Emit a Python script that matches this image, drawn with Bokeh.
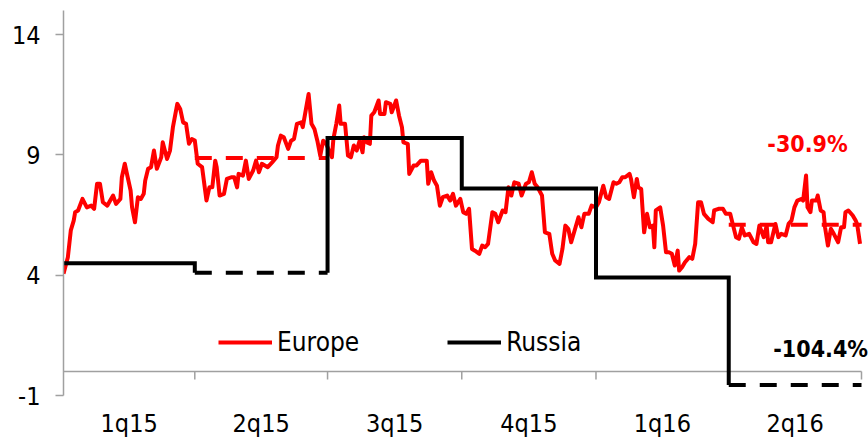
from bokeh.plotting import figure
from bokeh.models import (FixedTicker, LinearAxis, Legend, LegendItem, Label)
from bokeh.embed import file_html
from bokeh.resources import INLINE

# ---------------- data ----------------
# quarter boundaries in calendar days since 1 Jan 2015
quarter_bounds = [0, 90, 181, 273, 365, 456, 547]
quarter_labels = ["1q15", "2q15", "3q15", "4q15", "1q16", "2q16"]

# Russia: quarterly values (step line); dashed = estimate
russia_q = [4.5, 4.1, 9.7, 7.6, 3.9, -0.56]
russia_dashed = [False, True, False, False, False, True]

# Europe: quarterly averages shown dashed
europe_q_avg = [None, 8.87, None, None, None, 6.10]

# Europe: daily series (day, value)
europe_day = [0, 3, 5, 7, 8, 10, 13, 16, 19, 21, 23, 25, 27, 30, 32, 34, 36, 39, 40, 42,
              44, 46, 47, 49, 51, 53, 55, 56, 58, 60, 62, 64, 67, 68, 71, 73, 75, 78, 80, 82,
              84, 86, 88, 90, 92, 95, 98, 100, 102, 104, 105, 107, 110, 112, 115, 117, 119, 120, 123, 125,
              127, 130, 132, 134, 136, 140, 143, 146, 147, 149, 151, 154, 156, 158, 160, 163, 164, 166, 168, 170,
              172, 174, 176, 178, 180, 184, 185, 187, 189, 190, 193, 195, 197, 199, 201, 203, 205, 206, 208, 210,
              211, 213, 216, 217, 220, 221, 224, 225, 228, 230, 232, 233, 236, 237, 240, 242, 245, 249, 250, 252,
              254, 256, 258, 260, 263, 265, 267, 269, 272, 274, 276, 278, 280, 282, 285, 287, 289, 291, 294, 296,
              298, 301, 303, 305, 307, 309, 312, 314, 317, 319, 321, 323, 325, 328, 330, 333, 335, 337, 340, 342,
              344, 346, 348, 351, 353, 355, 357, 360, 362, 365, 367, 370, 372, 374, 377, 379, 381, 383, 385, 388,
              389, 391, 393, 394, 396, 398, 400, 402, 404, 405, 406, 409, 411, 413, 415, 417, 419, 421, 422, 424,
              426, 429, 431, 433, 435, 437, 439, 442, 445, 446, 449, 452, 454, 457, 459, 461, 463, 465, 467, 470,
              473, 475, 477, 480, 482, 483, 485, 488, 490, 492, 495, 497, 499, 501, 503, 506, 507, 509, 510, 512,
              513, 516, 517, 519, 521, 522, 524, 526, 528, 531, 533, 535, 536, 538, 541, 543, 544, 546]
europe_val = [4.06, 4.75, 5.86, 6.27, 6.62, 6.69, 7.17, 6.82, 6.89, 6.76, 7.80, 7.80, 7.03, 6.89, 7.10, 7.31, 6.96, 7.17, 8.07, 8.63,
              8.07, 7.52, 6.82, 6.20, 7.24, 7.17, 7.38, 7.93, 8.42, 8.49, 9.18, 8.42, 8.90, 9.52, 8.83, 9.18, 10.15, 11.12, 10.91, 10.35,
              10.29, 9.46, 9.66, 9.60, 8.63, 8.49, 7.10, 7.65, 7.65, 8.76, 8.49, 7.31, 7.38, 8.00, 8.07, 8.07, 7.65, 8.21, 8.14, 8.76,
              8.00, 8.35, 8.76, 8.28, 8.63, 8.49, 8.69, 8.90, 9.39, 9.80, 9.73, 9.25, 9.59, 9.66, 10.29, 10.35, 10.15, 10.84, 11.53, 10.29,
              10.08, 9.59, 8.97, 9.59, 9.46, 8.90, 9.66, 10.29, 11.05, 10.29, 10.29, 8.97, 8.90, 9.39, 9.18, 9.59, 9.11, 9.73, 9.52, 9.46,
              10.63, 10.77, 11.26, 10.70, 10.70, 11.19, 11.12, 10.77, 11.26, 10.63, 10.15, 9.52, 9.46, 8.21, 8.56, 8.56, 8.76, 8.76, 7.80, 8.28,
              7.93, 7.72, 6.89, 7.24, 7.31, 7.10, 7.38, 6.89, 7.17, 6.62, 6.55, 6.76, 5.09, 5.02, 4.89, 5.23, 5.16, 5.30, 6.62, 6.55,
              6.20, 6.69, 6.62, 7.65, 7.31, 7.86, 7.80, 7.31, 7.80, 7.86, 8.28, 7.80, 7.65, 7.31, 5.78, 5.72, 4.89, 4.61, 4.47, 5.09,
              6.06, 5.93, 5.37, 5.99, 6.41, 5.99, 6.55, 6.55, 6.89, 6.82, 7.03, 7.72, 7.24, 7.17, 7.86, 7.80, 7.86, 8.07, 8.07, 8.21,
              8.00, 7.24, 8.00, 7.65, 7.58, 5.78, 6.55, 5.99, 6.06, 5.16, 6.69, 6.82, 6.06, 4.95, 4.95, 4.89, 4.40, 5.02, 4.19, 4.33,
              4.54, 4.75, 4.68, 5.30, 7.03, 7.03, 6.55, 6.34, 6.20, 6.69, 6.76, 6.76, 6.55, 6.55, 6.06, 5.58, 5.51, 5.99, 5.65, 5.72,
              5.37, 5.30, 6.06, 5.58, 6.06, 5.37, 5.37, 6.13, 5.58, 5.72, 5.65, 6.13, 6.27, 6.82, 7.10, 7.17, 7.10, 8.14, 6.82, 6.62,
              7.10, 7.10, 7.31, 6.69, 6.62, 5.99, 5.23, 5.93, 5.72, 5.37, 5.99, 5.99, 6.62, 6.69, 6.48, 6.27, 6.13, 5.30]

y_ticks = [-1, 4, 9, 14]
europe_note = "-30.9%"
russia_note = "-104.4%"

# ---------------- styling ----------------
FONT = "DejaVu Sans Condensed"
RED = "#FF0000"
GREY = "#A0A0A0"
LW = 4
DASH = "17 14"

PLOT_W = 798          # pixels covering the six quarters
EXTRA_W = 7           # free room at the right for the note text
x_end = quarter_bounds[-1] * (PLOT_W + EXTRA_W) / PLOT_W

p = figure(frame_width=PLOT_W + EXTRA_W, frame_height=385,
           x_range=(quarter_bounds[0], x_end), y_range=(-1, 15),
           output_backend="svg", toolbar_location=None,
           min_border_left=63, min_border_top=10, min_border_right=0, min_border_bottom=0,
           x_axis_location=None, y_axis_location=None)
p.grid.visible = False
p.outline_line_color = None
p.background_fill_color = "white"
p.border_fill_color = "white"

# y axis
yax = LinearAxis(ticker=FixedTicker(ticks=y_ticks, minor_ticks=[]))
yax.major_label_overrides = {t: str(t) for t in y_ticks}
yax.axis_line_color = GREY
yax.axis_line_width = 1.5
yax.major_tick_line_color = GREY
yax.major_tick_line_width = 1.5
yax.major_tick_out = 8
yax.major_tick_in = 0
yax.minor_tick_line_color = None
yax.major_label_text_font = FONT
yax.major_label_text_font_size = "25px"
yax.major_label_text_color = "black"
yax.major_label_standoff = 15
p.add_layout(yax, "left")

# category axis (labels only, centred in each quarter)
mids = [(quarter_bounds[i] + quarter_bounds[i + 1]) / 2 for i in range(len(quarter_labels))]
xax = LinearAxis(ticker=FixedTicker(ticks=mids, minor_ticks=[]))
xax.major_label_overrides = {m: lab for m, lab in zip(mids, quarter_labels)}
xax.axis_line_color = None
xax.major_tick_line_color = None
xax.minor_tick_line_color = None
xax.major_tick_out = 0
xax.major_tick_in = 0
xax.major_label_text_font = FONT
xax.major_label_text_font_size = "25px"
xax.major_label_text_color = "black"
xax.major_label_standoff = 13
p.add_layout(xax, "below")

# horizontal axis line at zero and quarter tick marks
tick_len = 8 * 16 / 385.0
b = quarter_bounds[1:]
p.segment(x0=[quarter_bounds[0]], y0=[0], x1=[quarter_bounds[-1]], y1=[0],
          line_color=GREY, line_width=1.5)
p.segment(x0=b, y0=[0] * len(b), x1=b, y1=[-tick_len] * len(b), line_color=GREY, line_width=1.5)

# Europe daily line
eu = p.line(europe_day, europe_val, line_color=RED, line_width=LW, line_join="round")

# Europe dashed quarterly averages
for i, v in enumerate(europe_q_avg):
    if v is not None:
        p.line([quarter_bounds[i], quarter_bounds[i + 1]], [v, v], line_color=RED,
               line_width=LW, line_dash=DASH)

# Russia step line
paths, cur, dash_xs, dash_ys = [], [], [], []
for i, v in enumerate(russia_q):
    x0, x1 = quarter_bounds[i], quarter_bounds[i + 1]
    if i > 0:
        if not cur:
            cur = [(x0, russia_q[i - 1])]
        cur.append((x0, v))
    if russia_dashed[i]:
        dash_xs.append([x0, x1])
        dash_ys.append([v, v])
        if cur:
            paths.append(cur)
        cur = []
    else:
        if not cur:
            cur = [(x0, v)]
        cur.append((x1, v))
if cur:
    paths.append(cur)
ru = p.multi_line([[pt[0] for pt in pth] for pth in paths], [[pt[1] for pt in pth] for pth in paths],
                  line_color="black", line_width=LW, line_join="miter")
p.multi_line(dash_xs, dash_ys, line_color="black", line_width=LW, line_dash=DASH)

# notes
p.add_layout(Label(x=510, y=9.45, text=europe_note, text_color=RED, text_font=FONT,
                   text_font_style="bold", text_font_size="23px", text_align="center",
                   text_baseline="middle"))
p.add_layout(Label(x=519, y=0.95, text=russia_note, text_color="black", text_font=FONT,
                   text_font_style="bold", text_font_size="23px", text_align="center",
                   text_baseline="middle"))

legend = Legend(items=[LegendItem(label="Europe", renderers=[eu]),
                       LegendItem(label="Russia", renderers=[ru])],
                orientation="horizontal", location=(155, 38),
                glyph_width=54, glyph_height=30, label_standoff=5, spacing=88,
                padding=0, margin=0, border_line_color=None, background_fill_alpha=0,
                label_text_font=FONT, label_text_font_size="26px", label_text_color="black")
p.add_layout(legend, "center")

open("out.html", "w").write(file_html(p, INLINE))
